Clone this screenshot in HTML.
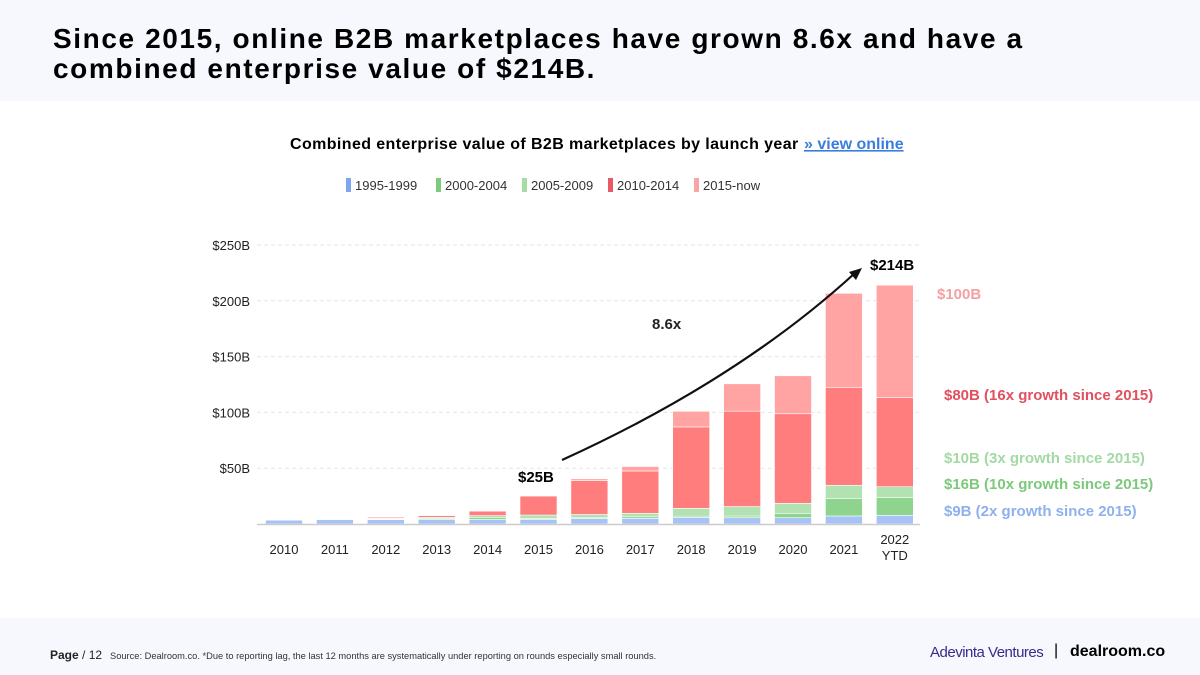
<!DOCTYPE html>
<html><head><meta charset="utf-8"><style>
body{margin:0;width:1200px;height:675px;background:#fff;font-family:"Liberation Sans",sans-serif;position:relative;overflow:hidden}
.hdr{position:absolute;left:0;top:0;width:1200px;height:101px;background:#f6f8fd}
.title{position:absolute;left:53px;top:24px;font-size:28px;font-weight:bold;line-height:30px;color:#000;letter-spacing:1.6px}
.ftr{position:absolute;left:0;top:618px;width:1200px;height:57px;background:#f6f8fd}
svg{position:absolute;left:0;top:0}
</style></head><body>
<div class="hdr"></div>
<div class="title">Since 2015, online B2B marketplaces have grown 8.6x and have a<br>combined enterprise value of $214B.</div>
<div class="ftr"></div>
<div style="position:absolute;left:50px;top:648px;font-size:12px;color:#222"><b>Page</b> / 12</div>
<div style="position:absolute;left:110px;top:651px;font-size:9.3px;color:#333">Source: Dealroom.co. *Due to reporting lag, the last 12 months are systematically under reporting on rounds especially small rounds.</div>
<div style="position:absolute;left:930px;top:644px;font-size:15px;color:#3a2a8a;letter-spacing:-0.5px">Adevinta Ventures</div>
<div style="position:absolute;left:1054px;top:642px;font-size:16px;color:#000">|</div>
<div style="position:absolute;left:1070px;top:643px;font-size:16px;font-weight:bold;color:#000">dealroom.co</div>
<svg id="c" width="1200" height="675"></svg>
<script>
const years=["2010","2011","2012","2013","2014","2015","2016","2017","2018","2019","2020","2021","2022|YTD"];
const s1995=[3.5,4,4,4,4,4,5,5,6,5.6,5.6,7.2,7.8];
const s2000=[0.3,0.3,0.5,1,2,1,1,1.5,1,1.5,4,15.8,15.8];
const s2005=[0.2,0.3,0.5,1,1.5,3,2.5,3,7,8.5,8.9,11.7,9.8];
const s2010=[0,0.3,1,1.5,4,17,30.5,38,73,85.5,80.3,87.8,79.8];
const s2015=[0,0,0,0,0,0,1.5,4,14,24.5,34,84.2,100.8];
const seriesNames=["1995-1999","2000-2004","2005-2009","2010-2014","2015-now"];
const ticks=[50,100,150,200,250];
const tickLabels=["$50B","$100B","$150B","$200B","$250B"];
const barCols=["#a7c3f5","#8ed38e","#b2e2b2","#ff7d7d","#ffa3a3"];
const legCols=["#7ea6f0","#7bcb7b","#a6dca6","#e85a67","#f8a5a8"];
const svg=document.getElementById('c');const NS="http://www.w3.org/2000/svg";
function el(t,a,p){const e=document.createElementNS(NS,t);for(const k in a)e.setAttribute(k,a[k]);(p||svg).appendChild(e);return e;}
function txt(x,y,s,a,p){const e=el('text',Object.assign({x:x,y:y},a),p);e.textContent=s;return e;}
const y0=524,pxPer=(524-245)/250;
const yS=v=>y0-v*pxPer;
const xS=i=>284+i*50.9;
const bw=37;
let t=txt(290,149,"Combined enterprise value of B2B marketplaces by launch year",{"font-size":16,"font-weight":"bold",fill:"#000","letter-spacing":0.4});

t=txt(804,149,"» view online",{"font-size":16,"font-weight":"bold",fill:"#3b7ddd","text-decoration":"underline"});

const legX=[346,436,522,608,694];
seriesNames.forEach((n,i)=>{
 const g=el('g',{});
 
 
 el('rect',{x:legX[i],y:178,width:5,height:14,fill:legCols[i]},g);
 txt(legX[i]+9,190,n,{"font-size":13,fill:"#333"},g);
});
ticks.forEach((v,i)=>{
 const l=el('line',{x1:257,x2:920,y1:yS(v),y2:yS(v),stroke:"#e6e6e6","stroke-dasharray":"4,3"});
 
 const tl=txt(250,yS(v)+5,tickLabels[i],{"font-size":13,fill:"#222","text-anchor":"end"});
 
});
const all=[s1995,s2000,s2005,s2010,s2015];
years.forEach((yr,i)=>{
 let base=0;
 all.forEach((s,k)=>{
  const v=s[i];if(v<=0)return;
  const r=el('rect',{x:xS(i)-bw/2,y:yS(base+v),width:bw,height:v*pxPer,fill:barCols[k],stroke:"#fff","stroke-width":0.6});
  
  
  base+=v;
 });
 const parts=yr.split('|');
 parts.forEach((p,j)=>{
  const xl=txt(xS(i),parts.length>1?544+j*16:554,p,{"font-size":13,fill:"#222","text-anchor":"middle"});
  
 });
});
const ax=el('line',{x1:257,x2:920,y1:y0+0.5,y2:y0+0.5,stroke:"#ccc","stroke-width":1.5});

const p=el('path',{d:"M562,460 C650,420 760,360 855,273",fill:"none",stroke:"#111","stroke-width":2.2});

const h=el('polygon',{points:"862,268 849,272 856,280",fill:"#111"});

const ann=[[518,482,"$25B","#000"],[870,270,"$214B","#000"],[652,329,"8.6x","#222"],
 [937,299,"$100B","#f4a0a3"],[944,400,"$80B (16x growth since 2015)","#e0505e"],
 [944,463,"$10B (3x growth since 2015)","#a3d9a3"],[944,489,"$16B (10x growth since 2015)","#7cc97c"],
 [944,516,"$9B (2x growth since 2015)","#8fb0ee"]];
ann.forEach(a=>{const e=txt(a[0],a[1],a[2],{"font-size":15,"font-weight":"bold",fill:a[3]});
 });
</script>
</body></html>
